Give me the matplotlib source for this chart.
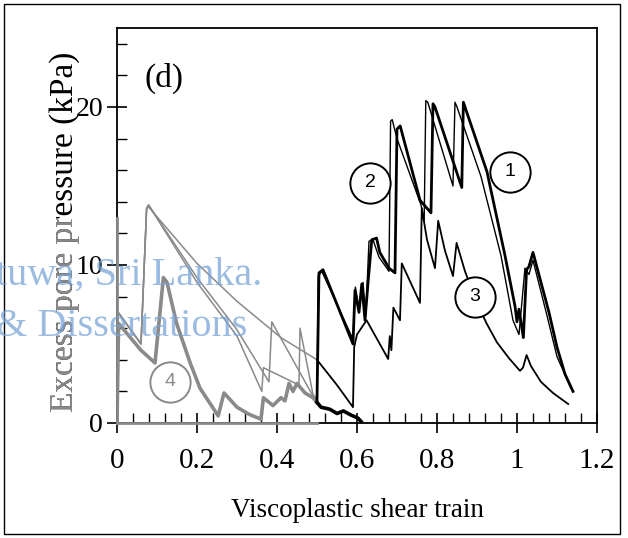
import numpy as np
import matplotlib.pyplot as plt
from matplotlib.patches import Rectangle
from matplotlib.transforms import Bbox, TransformedBbox

# traced curves: viscoplastic shear strain vs excess pore pressure (kPa)
# first part (strain <= 0.5) drawn grey, rest black
c1_x = [0, 0.003, 0.06, 0.074, 0.079, 0.2, 0.3, 0.38, 0.387, 0.49, 0.5,
        0.505, 0.515, 0.59, 0.595, 0.605, 0.612, 0.62, 0.628, 0.637, 0.649,
        0.657, 0.68, 0.695, 0.70, 0.708, 0.7575, 0.785, 0.79, 0.795, 0.862,
        0.866, 0.87, 0.925, 0.97, 0.995, 1.0, 1.005, 1.016, 1.024, 1.03,
        1.04, 1.08, 1.1, 1.12, 1.14]
c1_y = [0, 7.0, 5.0, 13.6, 13.8, 9.2, 5.9, 2.6, 6.4, 1.7, 1.4,
        9.5, 9.7, 5.0, 8.4, 7.0, 8.8, 6.5, 9.0, 11.6, 11.7,
        10.8, 9.8, 9.5, 18.6, 18.8, 14.1, 13.3, 20.2, 20.0, 14.9,
        20.3, 20.0, 15.9, 10.6, 7.4, 6.4, 7.2, 5.4, 9.7, 9.9,
        10.8, 7.0, 4.8, 3.1, 2.0]

c2_x = [0, 0.003, 0.06, 0.074, 0.079, 0.2, 0.3, 0.362, 0.366, 0.455, 0.4575, 0.49, 0.5,
        0.503, 0.512, 0.59, 0.596, 0.605, 0.615, 0.622, 0.63, 0.64, 0.655,
        0.68, 0.684, 0.688, 0.70, 0.76, 0.768, 0.772, 0.777, 0.84, 0.845,
        0.85, 0.91, 0.96, 0.99, 1.005, 1.02, 1.03, 1.04, 1.075, 1.1, 1.135]
c2_y = [0, 7.0, 5.0, 13.6, 13.8, 8.9, 5.5, 2.0, 3.5, 2.4, 6.0, 1.8, 1.5,
        9.3, 9.6, 5.3, 8.6, 7.2, 8.9, 6.8, 11.5, 11.6, 10.5,
        9.6, 19.1, 19.2, 18.0, 13.8, 12.8, 20.4, 20.3, 15.0, 20.3,
        20.0, 15.6, 10.6, 6.5, 5.6, 9.8, 9.4, 10.3, 6.8, 4.2, 2.2]

c3_x = [0, 0.003, 0.06, 0.074, 0.078, 0.2, 0.3, 0.41, 0.5,
        0.55, 0.59, 0.593, 0.6, 0.624, 0.678, 0.682, 0.686, 0.691, 0.7075, 0.712,
        0.7575, 0.762, 0.775, 0.795, 0.803, 0.82, 0.84, 0.849, 0.87, 0.9, 0.924,
        0.95, 0.98, 1.0075, 1.015, 1.024, 1.035, 1.06, 1.09, 1.128]
c3_y = [0, 7.0, 5.0, 13.5, 13.7, 10.1, 7.7, 5.4, 4.0,
        2.4, 1.0, 4.8, 5.6, 6.5, 4.05, 5.5, 4.6, 7.3, 6.5, 10.1,
        7.6, 13.6, 11.6, 9.8, 12.8, 10.9, 9.3, 11.4, 9.6, 7.6, 6.3,
        5.1, 4.1, 3.3, 3.5, 4.3, 3.6, 2.6, 1.9, 1.2]

c4_x = [0, 0.004, 0.06, 0.095, 0.116, 0.125, 0.149, 0.183, 0.2075, 0.253,
        0.2675, 0.3, 0.33, 0.36, 0.366, 0.39, 0.41, 0.42, 0.43, 0.44, 0.45, 0.47, 0.49, 0.5,
        0.51, 0.532, 0.55, 0.566, 0.585, 0.603, 0.61]
c4_y = [0, 6.3, 4.6, 3.8, 9.2, 8.9, 6.3, 3.8, 2.2, 0.45,
        1.9, 1.0, 0.55, 0.24, 1.6, 1.1, 1.6, 1.4, 2.5, 2.0, 2.5, 1.9, 1.6, 1.3,
        1.0, 0.87, 0.6, 0.76, 0.5, 0.3, 0.1]

labels = ["1", "2", "3", "4"]
label_x = [0.983, 0.6325, 0.895, 0.1325]
label_y = [15.9, 15.2, 8.0, 2.6]

grey = "#8a8a8a"
plt.rcParams["font.family"] = ["Liberation Serif", "DejaVu Serif"]

fig = plt.figure(figsize=(6.28, 5.38), dpi=100)
ax = fig.add_axes([0.1863, 0.2138, 0.7643, 0.7342])

curves = [(c1_x, c1_y, 2.0), (c2_x, c2_y, 1.0), (c3_x, c3_y, 1.3), (c4_x, c4_y, 2.6)]
for i, (cx, cy, lw) in enumerate(curves):
    cx = np.array(cx)
    cy = np.array(cy)
    first = cx <= 0.5
    second = cx >= 0.5
    lw_grey = 2.6 if i == 3 else 1.1
    ax.plot(cx[first], cy[first], color=grey, lw=lw_grey, zorder=2)
    ax.plot(cx[second], cy[second], color="black", lw=lw, zorder=3)

for t, lx, ly in zip(labels, label_x, label_y):
    col = grey if t == "4" else "black"
    ax.plot(lx, ly, "o", ms=29, mfc="white", mec=col, mew=1.4, zorder=4)
    ax.text(lx, ly, t, ha="center", va="center", fontsize=14, color=col,
            family="Liberation Sans", zorder=5)

ax.text(0.07, 21.8, "(d)", fontsize=24, ha="left", va="center")

ax.set_xlim(0, 1.2)
ax.set_ylim(0, 25)
ax.set_xticks(np.arange(0, 1.21, 0.2))
ax.set_xticklabels(["0", "0.2", "0.4", "0.6", "0.8", "1", "1.2"])
ax.set_xticks(np.arange(0, 1.2, 0.04), minor=True)
ax.set_yticks([0, 10, 20])
ax.set_yticks(np.arange(0, 25, 2), minor=True)
ax.tick_params(which="major", direction="inout", length=14, width=1.2,
               labelsize=21, pad=11, top=False, right=False)
ax.tick_params(axis="y", which="major", pad=3, labelsize=20)
ax.tick_params(which="minor", direction="in", length=7, width=1.0,
               top=False, right=False)
for s in ax.spines.values():
    s.set_linewidth(1.3)

# grey overlay of the first plot on the axes
ax.plot([0, 0.5], [0, 0], color=grey, lw=2.0, zorder=3, clip_on=False)
ax.plot([0, 0], [0, 13], color=grey, lw=2.0, zorder=3, clip_on=False)

ax.set_xlabel("Viscoplastic shear train", fontsize=19.5, labelpad=17)

# y label: lower half grey, upper half black
ylab_black = fig.text(0.103, 0.57, "Excess pore pressure (kPa)", rotation=90,
                      ha="center", va="center", fontsize=24, color="black")
ylab_grey = fig.text(0.103, 0.57, "Excess pore pressure (kPa)", rotation=90,
                     ha="center", va="center", fontsize=24, color=grey)
ylab_grey.set_clip_box(TransformedBbox(Bbox([[0, 0], [1, 0.595]]), fig.transFigure))
ylab_grey.set_clip_on(True)

# watermark
fig.text(-0.006, 0.47, "tuwa, Sri Lanka.", fontsize=29, color="#7aa5d8", alpha=0.75)
fig.text(-0.006, 0.375, "& Dissertations", fontsize=29, color="#7aa5d8", alpha=0.75)

fig.patches.append(Rectangle((0.006, 0.008), 0.982, 0.984, transform=fig.transFigure,
                             fill=False, lw=1.0, ec="black"))

fig.savefig("out.png", dpi=100)
